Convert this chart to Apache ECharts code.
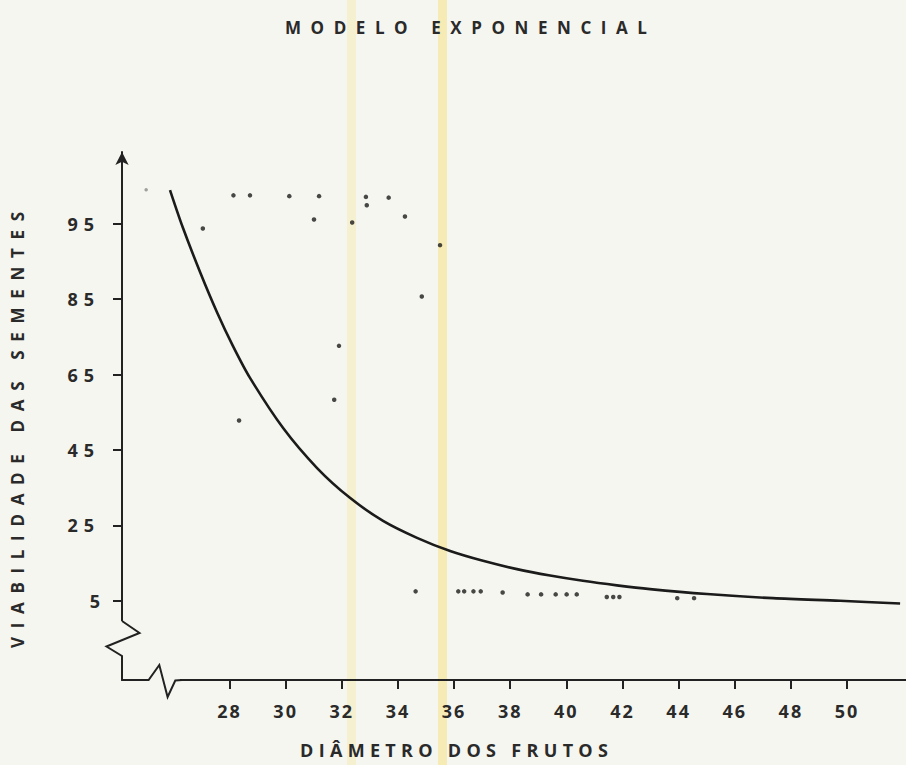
<!DOCTYPE html>
<html>
<head>
<meta charset="utf-8">
<script src="https://cdn.jsdelivr.net/npm/echarts@6/dist/echarts.min.js"></script>
<style>
  html, body { margin: 0; padding: 0; background: #f6f6f0; }
  #chart { width: 906px; height: 765px; }
</style>
</head>
<body>
<div id="chart"></div>
<script>
// ---- data (axis units) ----
const titleText = 'MODELO EXPONENCIAL';
const xName = 'DIÂMETRO DOS FRUTOS';
const yName = 'VIABILIDADE DAS SEMENTES';

const xTickValues = [28, 30, 32, 34, 36, 38, 40, 42, 44, 46, 48, 50];
const xTickLabels = ['28', '30', '32', '34', '36', '38', '40', '42', '44', '46', '48', '50'];
const yTickValues = [5, 25, 45, 65, 85, 105];
const yTickLabels = ['5', '25', '45', '65', '85', '95'];

// fitted exponential curve, traced
const xCurve = [25.88, 26.34, 26.95, 27.55, 28.12, 28.73, 29.91, 31.12, 32.29, 33.47, 34.68, 35.86, 37.03, 38.24, 39.42, 40.59, 41.80, 42.98, 45.01, 47.36, 49.75, 51.89];
const yCurve = [113.9, 103.9, 92.2, 81.6, 72.6, 64.1, 50.8, 40.2, 32.3, 26.2, 21.7, 18.2, 15.6, 13.4, 11.7, 10.3, 9.1, 8.1, 6.8, 5.7, 5.0, 4.3];

// observed points
const xPts = [27.05, 28.14, 28.73, 30.13, 31.19, 31.01, 32.37, 32.86, 32.89, 33.67, 34.25, 35.5, 34.85, 31.9, 31.73, 28.34, 34.63, 36.15, 36.36, 36.69, 36.95, 37.73, 38.62, 39.10, 39.62, 40.01, 40.37, 41.44, 41.67, 41.89, 43.95, 44.55];
const yPts = [103.7, 112.5, 112.5, 112.3, 112.3, 106.1, 105.3, 112.1, 109.9, 111.9, 106.9, 99.3, 85.7, 72.6, 58.3, 52.8, 7.5, 7.5, 7.5, 7.5, 7.5, 7.2, 6.7, 6.7, 6.7, 6.7, 6.7, 6.0, 6.0, 6.0, 5.7, 5.7];
const xFaint = [25.03];
const yFaint = [114.0];

// ---- styling ----
const BG = '#f6f6f0';
const INK = '#222222';
const TXT = '#2a2a2a';
const FONT = '"Open Sans", "Liberation Sans", sans-serif';
const X_MIN = 24.17, X_MAX = 52.1, Y_MIN = -16, Y_MAX = 124;

const chart = echarts.init(document.getElementById('chart'), null, { renderer: 'svg' });

const zip = (xs, ys) => xs.map((x, i) => [x, ys[i]]);

const option = {
  backgroundColor: BG,
  animation: false,
  title: {
    text: titleText,
    left: 280,
    top: 14,
    textStyle: { fontFamily: FONT, fontSize: 17, fontWeight: 'bold', color: TXT }
  },
  grid: { left: 122, right: 0, top: 152, bottom: 85 },
  xAxis: {
    type: 'value',
    min: X_MIN,
    max: X_MAX,
    axisLine: { show: true, onZero: false, lineStyle: { color: INK, width: 2 } },
    axisTick: { show: true, customValues: xTickValues, length: 9, lineStyle: { color: INK, width: 2 } },
    axisLabel: {
      customValues: xTickValues,
      formatter: (v) => xTickLabels[xTickValues.indexOf(v)],
      margin: 22,
      fontFamily: FONT, fontSize: 18, fontWeight: 'bold', color: TXT
    },
    splitLine: { show: false }
  },
  yAxis: {
    type: 'value',
    min: Y_MIN,
    max: Y_MAX,
    axisLine: { show: true, onZero: false, symbol: ['none', 'arrow'], symbolSize: [10, 13], lineStyle: { color: INK, width: 2 } },
    axisTick: { show: true, customValues: yTickValues, length: 9, lineStyle: { color: INK, width: 2 } },
    axisLabel: {
      customValues: yTickValues,
      formatter: (v) => yTickLabels[yTickValues.indexOf(v)],
      margin: 22,
      fontFamily: FONT, fontSize: 18, fontWeight: 'bold', color: TXT
    },
    splitLine: { show: false }
  },
  series: [
    {
      type: 'line',
      data: zip(xCurve, yCurve),
      smooth: 0.3,
      showSymbol: false,
      lineStyle: { color: '#1b1b1b', width: 2.6 },
      z: 3
    },
    {
      type: 'scatter',
      data: zip(xPts, yPts),
      symbol: 'circle',
      symbolSize: 4.5,
      itemStyle: { color: '#1c1c1c' },
      z: 4
    },
    {
      type: 'scatter',
      data: zip(xFaint, yFaint),
      symbol: 'circle',
      symbolSize: 3.5,
      itemStyle: { color: '#8a8a8a' },
      z: 4
    }
  ]
};

chart.setOption(option);

// decorations: paper stripes, axis breaks, axis names
const O = chart.convertToPixel({ gridIndex: 0 }, [X_MIN, Y_MIN]);
const ox = O[0], oy = O[1];

chart.setOption({
  graphic: [
    { type: 'rect', silent: true, z: -10, shape: { x: 347, y: 0, width: 9, height: 765 }, style: { fill: 'rgba(244,232,168,0.45)' } },
    { type: 'rect', silent: true, z: -10, shape: { x: 438, y: 0, width: 9, height: 765 }, style: { fill: 'rgba(246,228,140,0.6)' } },
    // y-axis break
    { type: 'rect', silent: true, z: 50, shape: { x: ox - 4, y: oy - 59, width: 8, height: 58 }, style: { fill: BG } },
    { type: 'polyline', silent: true, z: 51,
      shape: { points: [[ox, oy - 59], [ox + 17.5, oy - 47], [ox - 15.5, oy - 33.5], [ox, oy - 24], [ox, oy]] },
      style: { stroke: INK, lineWidth: 2, fill: null } },
    // x-axis break
    { type: 'rect', silent: true, z: 50, shape: { x: ox + 24, y: oy - 4, width: 34, height: 8 }, style: { fill: BG } },
    { type: 'polyline', silent: true, z: 51,
      shape: { points: [[ox + 22, oy], [ox + 26.6, oy], [ox + 37.3, oy - 15], [ox + 45.6, oy + 17], [ox + 53.3, oy + 0.5], [ox + 60, oy]] },
      style: { stroke: INK, lineWidth: 2, fill: null } },
    // axis names
    { type: 'text', silent: true, x: 17.5, y: 648, rotation: Math.PI / 2,
      style: { text: yName, fontFamily: FONT, fontSize: 17, fontWeight: 'bold', fill: TXT, align: 'left', verticalAlign: 'middle' } },
    { type: 'text', silent: true, x: 300, y: 750,
      style: { text: xName, fontFamily: FONT, fontSize: 18, fontWeight: 'bold', fill: TXT, align: 'left', verticalAlign: 'middle' } }
  ]
});

// letter spacing like the hand lettering (applied to the SVG text nodes)
const meas = document.createElement('canvas').getContext('2d');
function spacingFor(text, size, target) {
  meas.font = 'bold ' + size + 'px ' + FONT;
  const w = meas.measureText(text).width;
  return Math.max(0, (target - w) / (text.length - 1));
}
const spacing = {};
spacing[titleText] = spacingFor(titleText, 17, 362);
spacing[yName] = spacingFor(yName, 17, 436);
spacing[xName] = spacingFor(xName, 18, 308);
yTickLabels.forEach(s => { if (s.length > 1) spacing[s] = 6; });
xTickLabels.forEach(s => { spacing[s] = 2; });

function applySpacing() {
  document.querySelectorAll('#chart text').forEach(t => {
    const s = t.textContent;
    if (spacing[s] != null) t.setAttribute('letter-spacing', spacing[s].toFixed(2));
  });
}
chart.on('finished', applySpacing);
setTimeout(applySpacing, 50);
setTimeout(applySpacing, 300);
</script>
</body>
</html>
